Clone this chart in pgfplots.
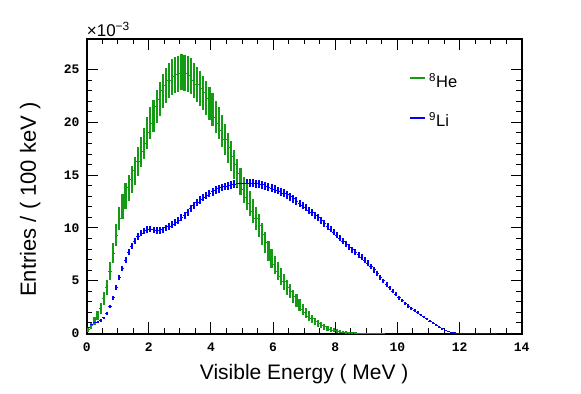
\documentclass[border=0pt]{standalone}
\usepackage{fontspec}
\setmainfont{Liberation Sans}
\setmonofont{Liberation Mono}
\usepackage{pgfplots}
\usepackage{pgfplotstable}
\pgfplotsset{compat=1.18}
\definecolor{hegreen}{RGB}{20,155,20}
\definecolor{liblue}{RGB}{0,0,255}

\pgfplotstableread{
E v err
0.05 0.40 0.22
0.15 0.75 0.29
0.25 1.20 0.37
0.35 1.70 0.44
0.45 2.40 0.53
0.55 3.30 0.62
0.65 4.40 0.71
0.75 5.90 0.83
0.85 7.60 0.94
0.95 9.30 1.04
1.05 10.90 1.12
1.15 12.00 1.18
1.25 13.00 1.23
1.35 13.80 1.26
1.45 14.60 1.30
1.55 15.40 1.33
1.65 16.30 1.37
1.75 17.20 1.41
1.85 18.00 1.44
1.95 19.00 1.48
2.05 19.90 1.52
2.15 20.60 1.54
2.25 21.50 1.58
2.35 22.20 1.60
2.45 23.00 1.63
2.55 23.50 1.65
2.65 24.00 1.67
2.75 24.30 1.68
2.85 24.50 1.68
2.95 24.60 1.69
3.05 24.80 1.69
3.15 24.70 1.69
3.25 24.60 1.69
3.35 24.40 1.68
3.45 24.00 1.67
3.55 23.60 1.65
3.65 23.20 1.64
3.75 22.80 1.62
3.85 22.30 1.61
3.95 21.80 1.59
4.05 21.20 1.57
4.15 20.50 1.54
4.25 19.90 1.52
4.35 19.20 1.49
4.45 18.40 1.46
4.55 17.60 1.43
4.65 16.80 1.39
4.75 16.00 1.36
4.85 15.20 1.33
4.95 14.40 1.29
5.05 13.60 1.25
5.15 12.90 1.22
5.25 12.30 1.19
5.35 11.60 1.16
5.45 10.90 1.12
5.55 10.20 1.09
5.65 9.40 1.04
5.75 8.60 1.00
5.85 7.80 0.95
5.95 7.10 0.91
6.05 6.50 0.87
6.15 5.90 0.83
6.25 5.40 0.79
6.35 4.90 0.75
6.45 4.40 0.71
6.55 4.00 0.68
6.65 3.50 0.64
6.75 3.10 0.60
6.85 2.70 0.56
6.95 2.30 0.52
7.05 1.95 0.47
7.15 1.65 0.44
7.25 1.40 0.40
7.35 1.15 0.36
7.45 0.95 0.33
7.55 0.78 0.30
7.65 0.62 0.27
7.75 0.50 0.24
7.85 0.40 0.22
7.95 0.31 0.19
8.05 0.24 0.17
8.15 0.18 0.14
8.25 0.13 0.12
8.35 0.10 0.11
8.45 0.07 0.09
8.55 0.05 0.08
8.65 0.04 0.07
8.75 0.03 0.06
8.85 0.02 0.05
8.95 0.02 0.05
9.05 0.01 0.03
9.15 0.01 0.03
9.25 0.01 0.03
9.35 0.00 0.00
9.45 0.00 0.00
9.55 0.00 0.00
}\hedata

\pgfplotstableread{
E v err
0.05 0.55 0.07
0.15 0.90 0.09
0.25 1.00 0.10
0.35 1.07 0.10
0.45 1.22 0.11
0.55 1.47 0.12
0.65 1.92 0.14
0.75 2.55 0.16
0.85 3.40 0.18
0.95 4.35 0.21
1.05 5.30 0.23
1.15 6.15 0.25
1.25 6.95 0.26
1.35 7.70 0.28
1.45 8.25 0.29
1.55 8.75 0.30
1.65 9.20 0.30
1.75 9.50 0.31
1.85 9.72 0.31
1.95 9.85 0.31
2.05 9.88 0.31
2.15 9.82 0.31
2.25 9.76 0.31
2.35 9.74 0.31
2.45 9.82 0.31
2.55 10.00 0.32
2.65 10.13 0.32
2.75 10.35 0.32
2.85 10.55 0.32
2.95 10.75 0.33
3.05 10.98 0.33
3.15 11.22 0.33
3.25 11.50 0.34
3.35 11.82 0.34
3.45 12.12 0.35
3.55 12.40 0.35
3.65 12.65 0.36
3.75 12.90 0.36
3.85 13.08 0.36
3.95 13.25 0.36
4.05 13.42 0.37
4.15 13.58 0.37
4.25 13.72 0.37
4.35 13.83 0.37
4.45 13.93 0.37
4.55 14.00 0.37
4.65 14.07 0.38
4.75 14.12 0.38
4.85 14.17 0.38
4.95 14.20 0.38
5.05 14.22 0.38
5.15 14.25 0.38
5.25 14.25 0.38
5.35 14.24 0.38
5.45 14.20 0.38
5.55 14.14 0.38
5.65 14.07 0.38
5.75 13.97 0.37
5.85 13.87 0.37
5.95 13.77 0.37
6.05 13.66 0.37
6.15 13.55 0.37
6.25 13.43 0.37
6.35 13.29 0.36
6.45 13.13 0.36
6.55 12.95 0.36
6.65 12.75 0.36
6.75 12.54 0.35
6.85 12.32 0.35
6.95 12.12 0.35
7.05 11.90 0.34
7.15 11.67 0.34
7.25 11.45 0.34
7.35 11.20 0.33
7.45 10.95 0.33
7.55 10.68 0.33
7.65 10.43 0.32
7.75 10.15 0.32
7.85 9.88 0.31
7.95 9.60 0.31
8.05 9.32 0.31
8.15 9.04 0.30
8.25 8.75 0.30
8.35 8.46 0.29
8.45 8.18 0.29
8.55 7.94 0.28
8.65 7.70 0.28
8.75 7.46 0.27
8.85 7.22 0.27
8.95 6.96 0.26
9.05 6.66 0.26
9.15 6.34 0.25
9.25 6.02 0.25
9.35 5.68 0.24
9.45 5.33 0.23
9.55 4.98 0.22
9.65 4.65 0.22
9.75 4.32 0.21
9.85 4.00 0.20
9.95 3.70 0.19
10.05 3.40 0.18
10.15 3.12 0.18
10.25 2.85 0.17
10.35 2.60 0.16
10.45 2.37 0.15
10.55 2.15 0.15
10.65 1.95 0.14
10.75 1.76 0.13
10.85 1.57 0.13
10.95 1.38 0.12
11.05 1.18 0.11
11.15 0.97 0.10
11.25 0.78 0.09
11.35 0.60 0.08
11.45 0.44 0.07
11.55 0.30 0.05
11.65 0.19 0.04
11.75 0.11 0.03
11.85 0.06 0.02
11.95 0.02 0.01
12.05 0.01 0.01
12.15 0.00 0.00
12.25 0.00 0.00
12.35 0.00 0.00
12.45 0.00 0.00
12.55 0.00 0.00
12.65 0.00 0.00
12.75 0.00 0.00
12.85 0.00 0.00
12.95 0.00 0.00
13.05 0.00 0.00
13.15 0.00 0.00
}\lidata

\begin{document}
\begin{tikzpicture}
\useasboundingbox (-86.7bp,-60.5bp) rectangle (494.3bp,333.5bp);
\begin{axis}[
  name=ax,
  at={(0,0)}, anchor=south west,
  scale only axis, width=435bp, height=294.5bp,
  xmin=0, xmax=14, ymin=0, ymax=27.9,
  xtick={0,2,...,14}, ytick={0,5,...,25},
  minor x tick num=3, minor y tick num=4,
  scaled ticks=false,
  axis line style={line width=2bp},
  every tick/.style={black, line width=1bp},
  major tick length=11bp, minor tick length=5.5bp,
  /pgf/number format/assume math mode=true,
  ticklabel style={font=\fontsize{13bp}{15bp}\selectfont\ttfamily\bfseries},
  xticklabel style={anchor=north, inner sep=0pt, yshift=-9bp},
  yticklabel style={anchor=east, inner sep=0pt, xshift=-7bp},
  xlabel={Visible Energy ( MeV )},
  ylabel={Entries / ( 100 keV )},
  xlabel style={at={(axis description cs:0.5,-0.1545)}, anchor=base, inner sep=0pt, font=\fontsize{21bp}{25bp}\selectfont},
  ylabel style={at={(axis description cs:-0.1166,0.455)}, anchor=base, inner sep=0pt, font=\fontsize{22bp}{25bp}\selectfont},
]
\addplot[liblue, only marks, mark=-, mark size=1.55bp, mark options={line width=1bp},
  error bars/.cd, y dir=both, y explicit, error mark=none,
  error bar style={line width=2bp, liblue}]
  table[x=E, y=v, y error=err] {\lidata};
\addplot[hegreen, only marks, mark=-, mark size=1.55bp, mark options={line width=1bp},
  error bars/.cd, y dir=both, y explicit, error mark=none,
  error bar style={line width=2.2bp, hegreen}]
  table[x=E, y=v, y error=err] {\hedata};
\end{axis}
% legend (axis box lower left corner is at the origin)
\draw[draw=hegreen, line width=2bp] (323.3bp,255.5bp) -- (338.3bp,255.5bp);
\draw[draw=liblue, line width=2bp] (323.3bp,215.5bp) -- (338.3bp,215.5bp);
\node[anchor=base west, inner sep=0pt, font=\fontsize{16.5bp}{18bp}\selectfont] at (342.3bp,246.2bp) {\textsuperscript{8}He};
\node[anchor=base west, inner sep=0pt, font=\fontsize{16.5bp}{18bp}\selectfont] at (342.3bp,206.5bp) {\textsuperscript{9}Li};
\node[anchor=base west, inner sep=0pt, font=\fontsize{17bp}{17bp}\selectfont] at ([yshift=2.3bp]ax.north west) {×10\textsuperscript{−3}};
\end{tikzpicture}
\end{document}
